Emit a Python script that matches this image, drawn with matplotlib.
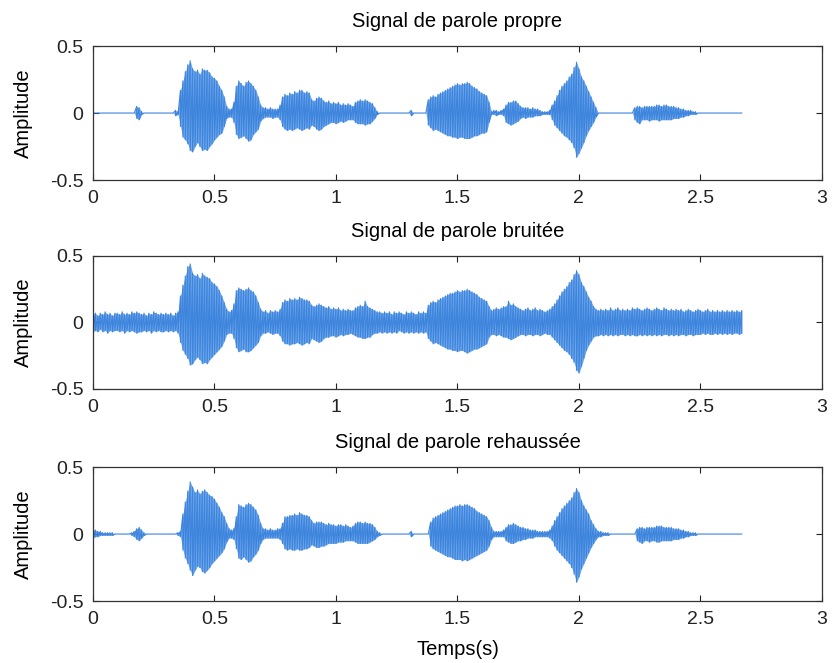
import matplotlib
matplotlib.use('Agg')
import matplotlib.pyplot as plt
import numpy as np

plt.rcParams['font.family'] = ['Liberation Sans', 'DejaVu Sans']

# sample step of the envelope readings (s)
dt = 0.01

titles = ['Signal de parole propre', 'Signal de parole bruitée', 'Signal de parole rehaussée']
xticks = [0, 0.5, 1, 1.5, 2, 2.5, 3]
yticks = [-0.5, 0, 0.5]

# upper / lower envelope of each signal, amplitude x 100, one value per 10 ms (0 .. 2.67 s)
propre_hi = [
    0, 0, 0, 0, 0, 0, 0, 0, 0, 0,
    0, 0, 0, 0, 0, 0, 0, 0, 5, 4,
    1, 0, 0, 0, 0, 0, 0, 0, 0, 0,
    0, 0, 0, 0, 2, 1, 17, 24, 31, 36,
    39, 33, 31, 32, 29, 33, 32, 32, 30, 27,
    26, 24, 20, 17, 12, 5, 3, 3, 8, 20,
    24, 22, 20, 23, 24, 22, 20, 17, 12, 6,
    4, 4, 3, 4, 3, 3, 3, 6, 12, 14,
    13, 15, 14, 16, 15, 17, 17, 15, 16, 15,
    10, 9, 11, 12, 11, 9, 8, 9, 7, 8,
    7, 8, 6, 7, 6, 7, 6, 5, 8, 9,
    10, 9, 10, 9, 8, 7, 4, 1, 0, 0,
    0, 0, 0, 0, 0, 0, 0, 0, 0, 0,
    0, 2, 0, 0, 0, 0, 0, 0, 10, 12,
    13, 12, 14, 15, 16, 17, 18, 19, 20, 21,
    22, 21, 22, 22, 23, 22, 20, 19, 18, 16,
    15, 14, 13, 8, 1, 2, 2, 1, 2, 3,
    6, 8, 8, 9, 9, 7, 5, 4, 4, 4,
    3, 4, 3, 3, 2, 1, 1, 1, 2, 6,
    9, 13, 17, 20, 22, 24, 27, 29, 34, 38,
    33, 27, 24, 20, 16, 12, 8, 4, 0, 0,
    0, 0, 0, 0, 0, 0, 0, 0, 0, 0,
    0, 0, 0, 4, 5, 5, 4, 5, 5, 5,
    5, 5, 6, 6, 5, 6, 6, 5, 5, 5,
    4, 4, 3, 3, 2, 2, 2, 1, 1, 0,
    0, 0, 0, 0, 0, 0, 0, 0, 0, 0,
    0, 0, 0, 0, 0, 0, 0, 0]
propre_lo = [
    0, 0, 0, 0, 0, 0, 0, 0, 0, 0,
    0, 0, 0, 0, 0, 0, 0, 0, -4, -5,
    -1, 0, 0, 0, 0, 0, 0, 0, 0, 0,
    0, 0, 0, 0, -2, -1, -10, -18, -20, -23,
    -28, -29, -25, -22, -25, -28, -27, -28, -25, -23,
    -20, -18, -16, -15, -10, -4, -3, -3, -7, -16,
    -19, -18, -17, -19, -21, -20, -16, -14, -12, -6,
    -4, -3, -3, -3, -4, -3, -3, -5, -10, -12,
    -13, -12, -13, -12, -11, -12, -13, -12, -11, -12,
    -9, -10, -12, -13, -12, -10, -9, -8, -7, -7,
    -8, -7, -6, -7, -6, -5, -5, -5, -7, -8,
    -8, -8, -9, -8, -8, -6, -4, -1, 0, 0,
    0, 0, 0, 0, 0, 0, 0, 0, 0, 0,
    0, -2, 0, 0, 0, 0, 0, 0, -9, -11,
    -13, -12, -13, -14, -15, -16, -17, -17, -18, -18,
    -19, -18, -18, -19, -19, -19, -18, -17, -17, -16,
    -15, -15, -14, -7, -1, -1, -2, -1, -1, -2,
    -7, -8, -9, -8, -7, -6, -4, -3, -4, -3,
    -3, -3, -2, -2, -2, -1, -1, -1, -1, -5,
    -9, -11, -13, -15, -17, -18, -20, -22, -26, -33,
    -30, -26, -22, -17, -13, -10, -7, -3, 0, 0,
    0, 0, 0, 0, 0, 0, 0, 0, 0, 0,
    0, 0, 0, -5, -7, -8, -5, -5, -5, -6,
    -5, -5, -5, -6, -5, -5, -5, -5, -5, -4,
    -4, -4, -3, -3, -2, -2, -1, -1, -1, 0,
    0, 0, 0, 0, 0, 0, 0, 0, 0, 0,
    0, 0, 0, 0, 0, 0, 0, 0]

bruitee_hi = [
    6, 7, 5, 7, 6, 8, 6, 7, 5, 7,
    7, 6, 8, 6, 7, 6, 8, 7, 8, 7,
    6, 7, 5, 7, 6, 8, 7, 6, 7, 6,
    7, 6, 7, 5, 7, 8, 20, 28, 35, 42,
    44, 37, 35, 36, 33, 37, 35, 34, 33, 30,
    29, 27, 24, 20, 15, 10, 8, 9, 14, 24,
    26, 25, 24, 25, 26, 24, 23, 20, 15, 10,
    8, 9, 7, 9, 8, 9, 8, 10, 15, 17,
    16, 18, 17, 18, 17, 19, 18, 17, 17, 16,
    13, 12, 13, 14, 13, 12, 11, 12, 10, 11,
    10, 11, 9, 10, 9, 10, 9, 9, 11, 12,
    13, 12, 16, 12, 11, 10, 9, 8, 8, 7,
    8, 7, 8, 6, 8, 7, 8, 7, 6, 8,
    7, 8, 7, 6, 8, 7, 8, 7, 13, 15,
    16, 15, 17, 18, 19, 20, 21, 22, 22, 23,
    24, 23, 24, 24, 25, 24, 23, 22, 21, 19,
    18, 17, 16, 12, 9, 10, 11, 10, 11, 12,
    12, 16, 13, 14, 12, 11, 10, 9, 10, 11,
    9, 10, 11, 9, 10, 9, 8, 9, 10, 12,
    14, 17, 20, 23, 25, 27, 30, 32, 36, 39,
    36, 30, 27, 23, 19, 16, 12, 10, 9, 10,
    9, 10, 9, 11, 9, 10, 11, 9, 10, 9,
    10, 9, 11, 10, 11, 10, 9, 10, 11, 10,
    9, 10, 11, 10, 9, 11, 10, 9, 10, 9,
    10, 9, 10, 8, 9, 10, 9, 8, 9, 10,
    9, 8, 9, 10, 8, 9, 8, 9, 8, 9,
    8, 9, 8, 9, 8, 9, 8, 9]
bruitee_lo = [
    -7, -6, -7, -5, -7, -6, -8, -6, -7, -6,
    -6, -7, -6, -8, -6, -7, -6, -7, -8, -7,
    -7, -6, -7, -6, -8, -6, -7, -6, -7, -7,
    -6, -7, -6, -7, -6, -8, -15, -21, -24, -27,
    -32, -31, -28, -26, -28, -31, -30, -31, -28, -26,
    -24, -22, -20, -18, -14, -9, -8, -8, -12, -19,
    -22, -21, -20, -22, -22, -21, -19, -17, -15, -10,
    -8, -8, -7, -8, -9, -8, -8, -10, -14, -16,
    -16, -17, -16, -16, -15, -16, -17, -16, -15, -16,
    -12, -13, -14, -15, -14, -12, -11, -11, -10, -10,
    -11, -10, -9, -10, -9, -9, -8, -9, -10, -11,
    -11, -12, -12, -11, -11, -9, -8, -8, -7, -8,
    -7, -8, -7, -8, -7, -8, -6, -7, -8, -7,
    -8, -7, -8, -7, -8, -7, -8, -7, -12, -14,
    -16, -15, -16, -17, -18, -19, -20, -20, -21, -21,
    -22, -21, -21, -22, -23, -22, -21, -20, -20, -19,
    -18, -17, -16, -11, -9, -9, -10, -9, -10, -11,
    -11, -12, -13, -12, -11, -10, -9, -9, -10, -9,
    -9, -10, -9, -9, -10, -9, -8, -9, -9, -11,
    -13, -15, -17, -19, -21, -22, -24, -27, -30, -36,
    -38, -33, -27, -21, -17, -14, -11, -10, -10, -9,
    -10, -9, -10, -9, -10, -9, -10, -9, -9, -10,
    -9, -10, -9, -10, -10, -9, -10, -9, -10, -9,
    -10, -9, -10, -9, -10, -9, -9, -10, -9, -10,
    -9, -10, -9, -9, -10, -9, -9, -10, -9, -9,
    -9, -8, -9, -8, -9, -9, -8, -9, -8, -9,
    -8, -9, -8, -9, -8, -8, -9, -8]

rehaussee_hi = [
    3, 3, 2, 2, 1, 1, 1, 1, 1, 0,
    0, 0, 0, 0, 0, 0, 1, 2, 4, 5,
    3, 1, 0, 0, 0, 0, 0, 0, 0, 0,
    0, 0, 0, 0, 0, 1, 2, 15, 24, 32,
    39, 35, 31, 33, 30, 32, 33, 31, 29, 28,
    26, 23, 20, 16, 13, 8, 4, 3, 4, 13,
    22, 21, 20, 22, 23, 22, 20, 18, 14, 8,
    4, 4, 3, 4, 3, 3, 4, 4, 8, 13,
    13, 14, 14, 15, 14, 16, 15, 14, 14, 13,
    10, 8, 9, 9, 9, 8, 7, 8, 7, 7,
    6, 7, 7, 6, 7, 6, 5, 6, 8, 9,
    9, 8, 9, 8, 8, 7, 5, 2, 1, 0,
    0, 0, 0, 0, 0, 0, 0, 0, 0, 0,
    0, 2, 0, 0, 0, 0, 0, 0, 0, 9,
    12, 13, 14, 15, 16, 17, 18, 19, 20, 21,
    21, 22, 21, 22, 22, 21, 20, 19, 17, 16,
    15, 14, 13, 10, 5, 2, 2, 2, 2, 3,
    5, 7, 7, 8, 7, 6, 5, 5, 4, 4,
    3, 3, 3, 2, 2, 2, 2, 2, 3, 6,
    10, 13, 16, 19, 21, 23, 25, 27, 31, 34,
    31, 25, 21, 18, 15, 10, 7, 4, 2, 2,
    1, 1, 1, 0, 0, 0, 0, 0, 0, 0,
    0, 0, 0, 0, 4, 5, 5, 4, 5, 5,
    5, 5, 6, 6, 6, 5, 5, 5, 5, 4,
    4, 4, 3, 3, 2, 2, 1, 1, 1, 0,
    0, 0, 0, 0, 0, 0, 0, 0, 0, 0,
    0, 0, 0, 0, 0, 0, 0, 0]
rehaussee_lo = [
    -3, -2, -2, -1, -1, -1, -1, -1, -1, 0,
    0, 0, 0, 0, 0, 0, -1, -2, -4, -5,
    -3, -1, 0, 0, 0, 0, 0, 0, 0, 0,
    0, 0, 0, 0, 0, -1, -2, -12, -18, -22,
    -27, -31, -27, -24, -25, -28, -29, -27, -25, -22,
    -20, -18, -16, -14, -11, -6, -3, -3, -4, -11,
    -18, -19, -17, -19, -21, -20, -17, -15, -12, -7,
    -4, -3, -3, -3, -3, -3, -3, -4, -7, -11,
    -12, -11, -12, -12, -11, -12, -12, -11, -11, -10,
    -8, -9, -10, -10, -9, -9, -8, -7, -7, -7,
    -7, -6, -6, -6, -5, -5, -5, -5, -6, -7,
    -7, -7, -7, -7, -6, -5, -4, -2, -1, 0,
    0, 0, 0, 0, 0, 0, 0, 0, 0, 0,
    0, -2, 0, 0, 0, 0, 0, 0, 0, -9,
    -11, -12, -13, -14, -15, -16, -17, -17, -18, -19,
    -19, -19, -20, -19, -20, -19, -18, -17, -16, -15,
    -14, -13, -12, -9, -4, -2, -2, -2, -2, -2,
    -5, -6, -7, -7, -6, -5, -5, -4, -4, -3,
    -3, -3, -2, -2, -2, -2, -2, -2, -3, -5,
    -9, -12, -14, -16, -18, -20, -22, -25, -30, -36,
    -32, -26, -22, -18, -14, -10, -7, -4, -2, -2,
    -1, -1, -1, 0, 0, 0, 0, 0, 0, 0,
    0, 0, 0, 0, -5, -6, -7, -5, -5, -6,
    -5, -5, -6, -6, -5, -5, -5, -5, -5, -4,
    -4, -4, -3, -3, -2, -2, -1, -1, -1, 0,
    0, 0, 0, 0, 0, 0, 0, 0, 0, 0,
    0, 0, 0, 0, 0, 0, 0, 0]

signals = [(propre_hi, propre_lo), (bruitee_hi, bruitee_lo), (rehaussee_hi, rehaussee_lo)]

fig = plt.figure(figsize=(8.34, 6.63), dpi=100)
fig.patch.set_facecolor('white')

# axes boxes (left, bottom, width, height) in figure fraction
boxes = [(0.1115, 0.7285, 0.874, 0.202),
         (0.1115, 0.4133, 0.874, 0.2006),
         (0.1115, 0.0935, 0.874, 0.202)]

for i, (box, (hi, lo)) in enumerate(zip(boxes, signals)):
    ax = fig.add_axes(box)
    hi = np.array(hi) / 100.0
    lo = np.array(lo) / 100.0
    t = np.arange(len(hi)) * dt
    # light band between the envelopes, then zig-zag strokes on top
    ax.fill_between(t, lo, hi, color='#70a8ec', lw=0)
    x = np.repeat(t, 2)
    y = np.column_stack([hi, lo]).ravel()
    ax.plot(x, y, color='#3d84dc', lw=0.8)

    ax.set_xlim(0, 3)
    ax.set_ylim(-0.5, 0.5)
    ax.set_xticks(xticks)
    ax.set_xticklabels(['0', '0.5', '1', '1.5', '2', '2.5', '3'])
    ax.set_yticks(yticks)
    ax.set_yticklabels(['-0.5', '0', '0.5'])
    ax.tick_params(direction='in', top=True, right=True, length=4, width=0.8,
                   labelsize=14, pad=7, colors='#222222')
    for sp in ax.spines.values():
        sp.set_linewidth(0.9)
        sp.set_color('#333333')
    ax.set_title(titles[i], fontsize=14.5, pad=14)
    ax.set_ylabel('Amplitude', fontsize=14.5)
    ax.yaxis.set_label_coords(-0.083, 0.5)
    if i == 2:
        ax.set_xlabel('Temps(s)', fontsize=14.5, labelpad=9)

fig.savefig('out.png', dpi=100)
